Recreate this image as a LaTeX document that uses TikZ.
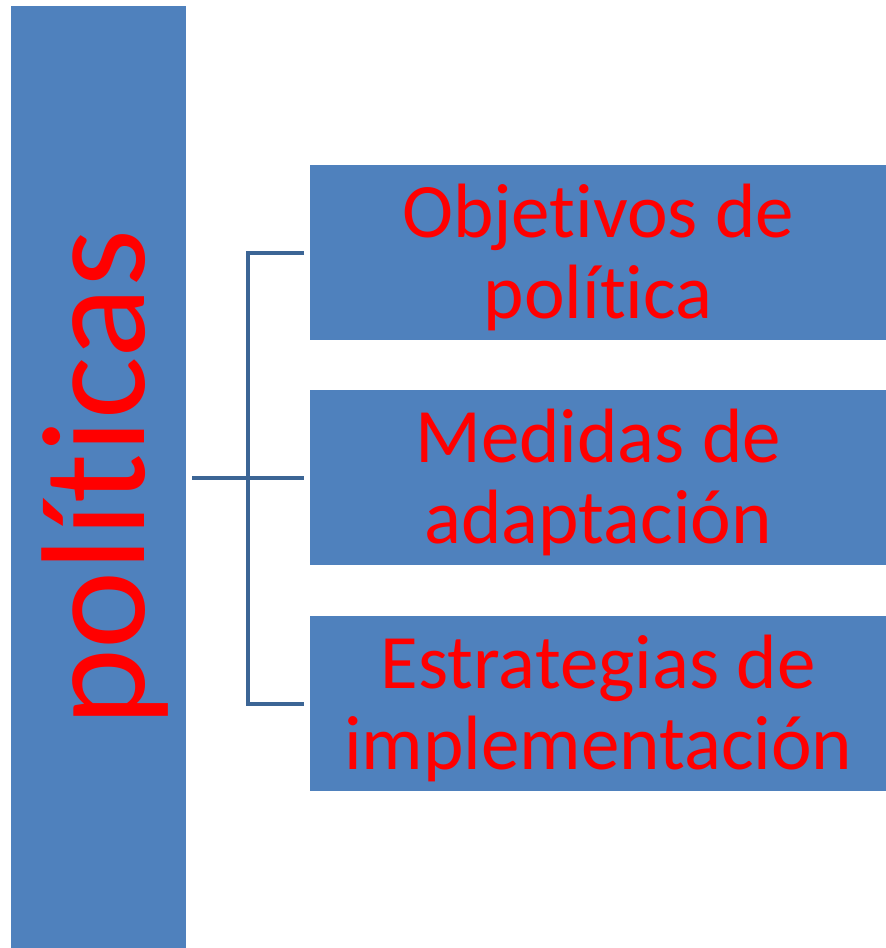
\documentclass[tikz,border=0pt]{standalone}
\usepackage{fontspec}
\setmainfont[RawFeature={-liga;-dlig;-clig}]{Carlito}
\definecolor{boxblue}{HTML}{4F81BD}
\definecolor{linkblue}{HTML}{3C6595}
\definecolor{txtred}{HTML}{FF0000}
\begin{document}
\begin{tikzpicture}[x=1pt,y=-1pt,
  bluebox/.style={fill=boxblue,draw=none,inner sep=0pt,text=txtred,align=center},
  boxtext/.style={text=txtred,align=center,inner sep=0pt,font=\fontsize{77}{81}\selectfont},
  link/.style={draw=linkblue,line width=4pt}]
\useasboundingbox (0,0) rectangle (886,948);
\node[bluebox,minimum width=175pt,minimum height=942pt,anchor=north west] (bar) at (11,6) {};
\node[text=txtred,rotate=90,font=\fontsize{148}{150}\selectfont,inner sep=0pt] (pol) at (105,478) {políticas};
\node[bluebox,minimum width=576pt,minimum height=175pt,anchor=north west] (b1) at (310,165) {};
\node[bluebox,minimum width=576pt,minimum height=175pt,anchor=north west] (b2) at (310,390) {};
\node[bluebox,minimum width=576pt,minimum height=175pt,anchor=north west] (b3) at (310,616) {};
\node[boxtext] (t1) at ([yshift=-5pt]b1.center) {Objetivos de\\política};
\node[boxtext] (t2) at ([yshift=-5pt]b2.center) {Medidas de\\adaptación};
\node[boxtext] (t3) at ([yshift=-5pt]b3.center) {Estrategias de\\implementación};
\coordinate (j) at (248,478);
\draw[link] ([xshift=6pt]bar.east |- j) -- (j);
\draw[link] ([xshift=-6pt]b1.west) -| (j |- b3.west) -- ([xshift=-6pt]b3.west);
\draw[link] (j) -- ([xshift=-6pt]b2.west |- j);
\end{tikzpicture}
\end{document}
